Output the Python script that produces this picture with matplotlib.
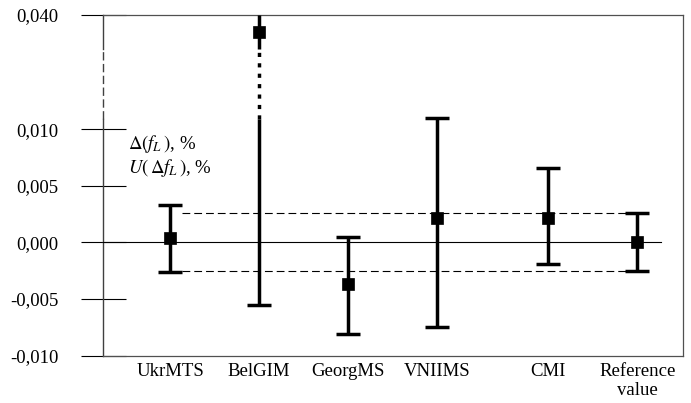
import numpy as np
import matplotlib
matplotlib.use('Agg')
import matplotlib.pyplot as plt
from matplotlib.ticker import NullLocator

plt.rcParams['font.family'] = ['Liberation Serif', 'DejaVu Serif']
plt.rcParams['mathtext.fontset'] = 'stix'

# data (real values, %)
labs = ['UkrMTS', 'BelGIM', 'GeorgMS', 'VNIIMS', 'CMI', 'Reference\nvalue']
means = [0.0004, 0.0385, -0.0037, 0.0022, 0.0022, 0.0000]
lo = [-0.0026, -0.0055, -0.0081, -0.0075, -0.0019, -0.0025]
hi = [0.0033, 0.0400, 0.0005, 0.0113, 0.0066, 0.0026]
yticks = [-0.010, -0.005, 0.000, 0.005, 0.010, 0.040]
ytick_labels = ['-0,010', '-0,005', '0,000', '0,005', '0,010', '0,040']

# x layout (CMI sits a bit further out)
xpos = [1, 2, 3, 4, 5.25, 6.25]

# axis break between b0 and b1, squeezed into "gap"
b0, b1, gap = 0.0109, 0.0370, 0.0062
ytop = 0.040


def fwd(y):
    y = np.asarray(y, dtype=float)
    return np.where(y <= b0, y,
                    np.where(y < b1, b0 + (y - b0) * gap / (b1 - b0),
                             y - (b1 - b0) + gap))


def inv(d):
    d = np.asarray(d, dtype=float)
    return np.where(d <= b0, d,
                    np.where(d < b0 + gap, b0 + (d - b0) * (b1 - b0) / gap,
                             d + (b1 - b0) - gap))


fig = plt.figure(figsize=(6.91, 4.03), dpi=100)
ax = fig.add_axes([0.149, 0.1174, 0.8394, 0.8454])
ax.set_yscale('function', functions=(fwd, inv))
ax.set_ylim(-0.010, ytop)
ax.set_xlim(0.247, 6.764)

frame_col = '#505050'
for s in ['top', 'right', 'bottom']:
    ax.spines[s].set_color(frame_col)
    ax.spines[s].set_linewidth(0.9)
ax.spines['left'].set_visible(False)

# left axis with dashed break
tr = ax.get_yaxis_transform()
ax.plot([0, 0], [-0.010, b0], transform=tr, color='#404040', lw=1, clip_on=False)
ax.plot([0, 0], [b0, b1], transform=tr, color='#404040', lw=1, dashes=(6, 2.5), clip_on=False)
ax.plot([0, 0], [b1, ytop], transform=tr, color='#404040', lw=1, clip_on=False)

ax.set_yticks(yticks)
ax.set_yticklabels(ytick_labels)
ax.yaxis.set_minor_locator(NullLocator())
ax.tick_params(axis='y', direction='inout', length=32.4, width=0.8, color='black',
               pad=16, labelsize=13.5)
ax.set_xticks(xpos)
ax.set_xticklabels(labs)
ax.tick_params(axis='x', length=0, pad=5, labelsize=13.5)

# zero line and reference band
x0 = ax.get_xlim()[0]
ax.plot([x0, xpos[-1] + 0.27], [0, 0], color='black', lw=0.8)
for yv in [hi[-1], lo[-1]]:
    ax.plot([xpos[0] + 0.13, xpos[-1] - 0.13], [yv, yv], color='black', lw=0.8,
            dashes=(7, 3.6))

# error bars
lw = 2.5
for x, m, l, h in zip(xpos, means, lo, hi):
    ax.plot([x, x], [l, min(h, b0)], color='black', lw=lw, solid_capstyle='butt', zorder=3)
    if h > b0:
        ax.plot([x, x], [b0, min(h, b1)], color='black', lw=lw,
                linestyle=(0, (1.2, 1.8)), dash_capstyle='butt', zorder=3)
    if h > b1:
        ax.plot([x, x], [b1, h], color='black', lw=lw, solid_capstyle='butt', zorder=3)
    ax.plot([x], [l], marker='_', ms=16.8, mew=lw, color='black', zorder=3)
    if h < ytop:
        ax.plot([x], [h], marker='_', ms=16.8, mew=lw, color='black', zorder=3)
    ax.plot([x], [m], marker='s', ms=8, mew=0.5, color='black', zorder=4)

ax.text(0.528, 0.0087, r'$\Delta(f_L\,)$, %', fontsize=13.5, va='center', ha='left')
ax.text(0.528, 0.0066, r'$U(\,\Delta f_L\,)$, %', fontsize=13.5, va='center', ha='left')

fig.savefig('out.png', dpi=100)
